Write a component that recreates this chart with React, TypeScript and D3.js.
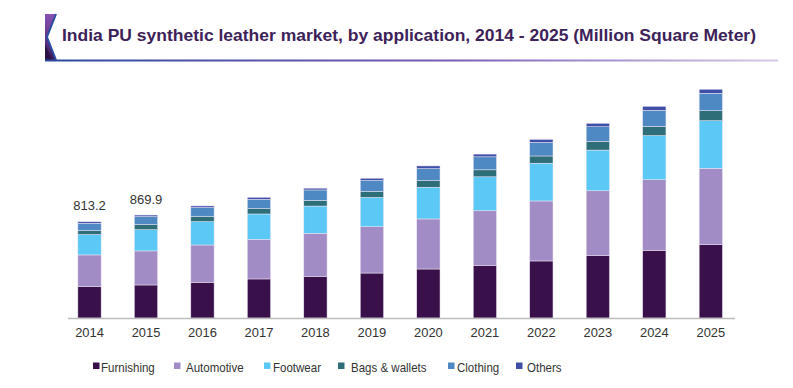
import * as d3 from 'd3';

// India PU synthetic leather market, million square meter
const years = ['2014', '2015', '2016', '2017', '2018', '2019', '2020', '2021', '2022', '2023', '2024', '2025'];
const seriesNames = ['Furnishing', 'Automotive', 'Footwear', 'Bags & wallets', 'Clothing', 'Others'];
const furnishing = [266, 279, 302, 330, 352, 380, 414, 445, 482, 526, 572, 619];
const automotive = [267, 288, 315, 335, 363, 391, 423, 461, 507, 549, 597, 646];
const footwear = [172, 179, 197, 214, 231, 248, 268, 287, 319, 344, 372, 402];
const bagsWallets = [34, 44, 46, 45, 48, 51, 56, 59, 61, 74, 79, 85];
const clothing = [62, 67, 73, 79, 88, 92, 101, 110, 115, 123, 135, 147];
const others = [12.2, 12.9, 14, 17, 15, 19, 23, 23, 25, 29, 34, 34];
const labelledYears = ['2014', '2015'];

const colors = ['#39104a', '#a28cc5', '#5bc8f5', '#2e6e79', '#4f89c4', '#3f4ea7'];

// layout
const W = 793;
const H = 388;
const baseY = 318;
const axisX0 = 68;
const axisX1 = 735;
const legendSwatchX = [93, 174, 264, 338, 448, 516];
const legendTextX = [101, 186, 273, 351, 457, 527];

export default function App() {
  const values = [furnishing, automotive, footwear, bagsWallets, clothing, others];
  const rows = years.map((y, i) => {
    const r: any = { year: y };
    seriesNames.forEach((s, k) => (r[s] = values[k][i]));
    return r;
  });
  const stacked = d3.stack().keys(seriesNames)(rows);

  const x = d3.scalePoint().domain(years).range([89.5, 710.8]);
  const barW = x.step() * 0.412;
  const y = d3.scaleLinear().domain([0, 2000]).range([baseY, baseY - 2000 / 8.45]);
  const fmt = d3.format('.1f');

  return (
    <svg
      width={W}
      height={H}
      style={{ position: 'absolute', left: 0, top: 0, background: '#fff' }}
      fontFamily="'Liberation Sans', Arial, sans-serif"
    >
      <defs>
        <linearGradient id="tag" x1="0" y1="0" x2="0" y2="1">
          <stop offset="0" stopColor="#8a52b3" />
          <stop offset="1" stopColor="#3b1a5c" />
        </linearGradient>
        <linearGradient id="rule" x1="0" y1="0" x2="1" y2="0">
          <stop offset="0" stopColor="#2b4a9e" />
          <stop offset="0.55" stopColor="#7a5bb4" />
          <stop offset="1" stopColor="#d7cbe8" />
        </linearGradient>
      </defs>

      {/* title banner */}
      <polygon points="45,14 56,14 47,37 56,60 45,60" fill="url(#tag)" />
      <polygon points="45,44 52,60 45,60" fill="#2c1245" />
      <polyline points="56,14 47,37 56,60" fill="none" stroke="#2b4fa6" strokeWidth={2} />
      <rect x={45} y={59.5} width={733} height={2} fill="url(#rule)" />
      <text
        x={62}
        y={40.7}
        fontSize={16.3}
        fontWeight="bold"
        fill="#3d2259"
        textLength={694}
        lengthAdjust="spacingAndGlyphs"
      >
        India PU synthetic leather market, by application, 2014 - 2025 (Million Square Meter)
      </text>

      {/* bars */}
      {stacked.map((layer, k) => (
        <g key={layer.key} fill={colors[k]}>
          {layer.map((d: any) => (
            <rect
              key={d.data.year}
              x={(x(d.data.year) as number) - barW / 2}
              y={y(d[1])}
              width={barW}
              height={y(d[0]) - y(d[1])}
              stroke="#ece6f4"
              strokeWidth={0.5}
            />
          ))}
        </g>
      ))}

      {/* totals */}
      {rows
        .filter((r) => labelledYears.includes(r.year))
        .map((r) => {
          const total = d3.sum(seriesNames, (s) => r[s]);
          return (
            <text
              key={r.year}
              x={x(r.year)}
              y={y(total) - 11.5}
              textAnchor="middle"
              fontSize={13}
              fill="#333"
            >
              {fmt(total)}
            </text>
          );
        })}

      {/* x axis */}
      <line x1={axisX0} x2={axisX1} y1={baseY + 0.5} y2={baseY + 0.5} stroke="#bdbdbd" strokeWidth={1.5} />
      {years.map((yr) => (
        <text
          key={yr}
          transform={`translate(${x(yr)},336.5) scale(0.95,1)`}
          textAnchor="middle"
          fontSize={13.6}
          fill="#333"
        >
          {yr}
        </text>
      ))}

      {/* legend */}
      {seriesNames.map((s, k) => (
        <g key={s}>
          <rect x={legendSwatchX[k]} y={362.5} width={6.5} height={6.5} fill={colors[k]} />
          <text
            transform={`translate(${legendTextX[k]},371.5) scale(0.86,1)`}
            fontSize={13.4}
            fill="#333"
          >
            {s}
          </text>
        </g>
      ))}
    </svg>
  );
}
